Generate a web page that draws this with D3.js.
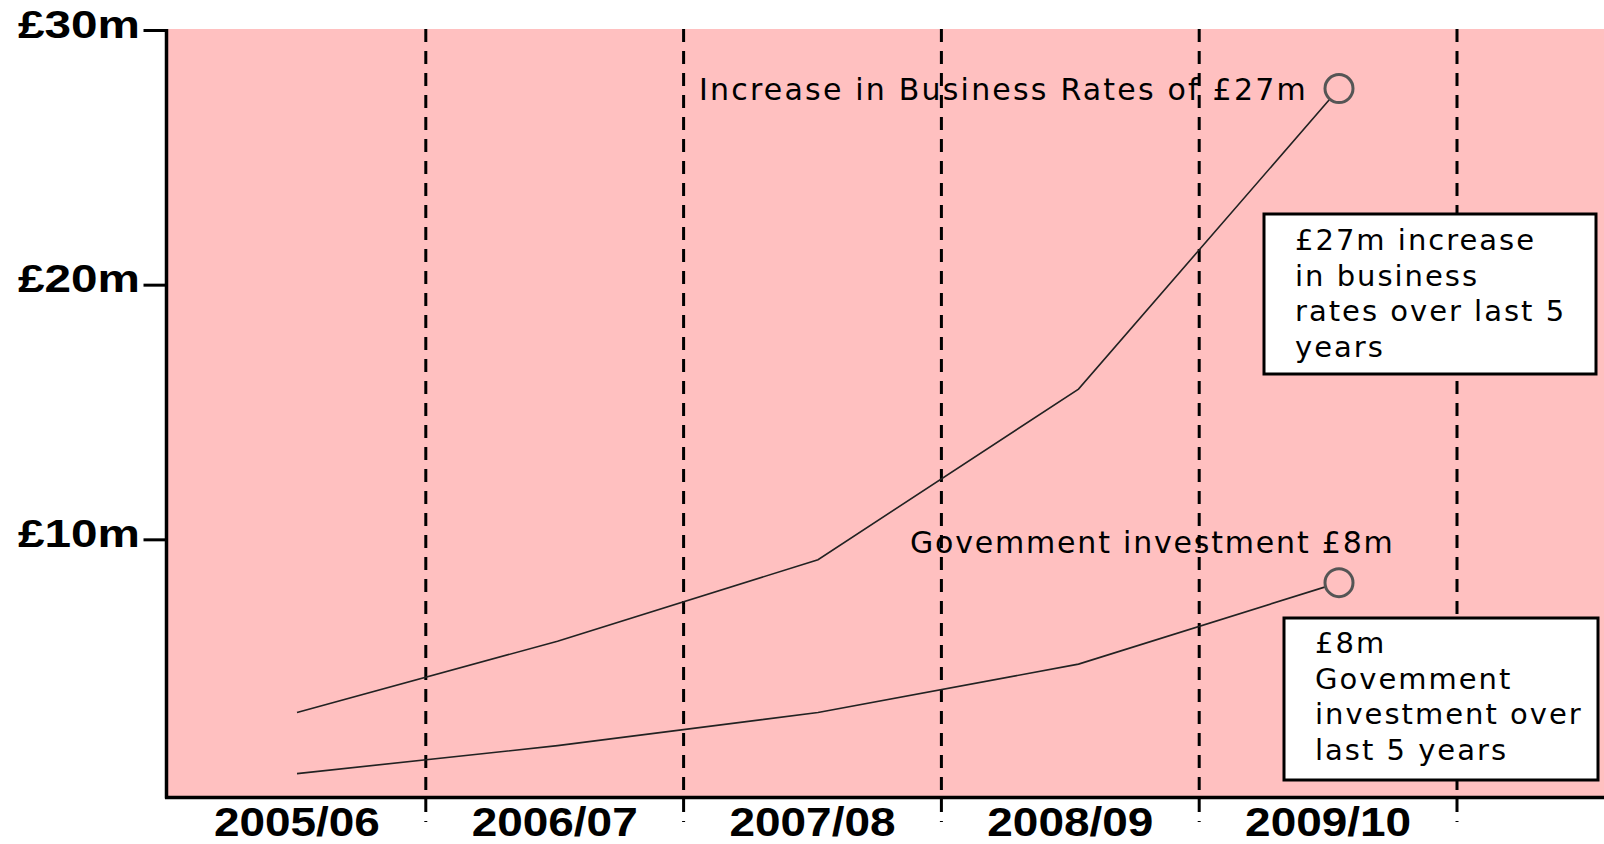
<!DOCTYPE html>
<html>
<head>
<meta charset="utf-8">
<script src="https://cdn.jsdelivr.net/npm/d3@7"></script>
<style>
body{margin:0;background:#fff}
svg{display:block}
</style>
</head>
<body>
<svg id="chart" width="1604" height="844"></svg>
<script>
// values, £m
const years = ["2005/06","2006/07","2007/08","2008/09","2009/10"]
const businessRates = [3.2, 6.0, 9.2, 15.9, 27.7]
const govInvestment = [0.8, 1.9, 3.2, 5.1, 8.3]
const yTicks = [10, 20, 30]
const ratesLabel = "Increase in Business Rates of £27m"
const govLabel = "Govemment investment £8m"
const ratesNote = ["£27m increase", "in business", "rates over last 5", "years"]
const govNote = ["£8m", "Govemment", "investment over", "last 5 years"]

const svg = d3.select("#chart")
// "top" clashes with window.top, so plot edges get their own names
const W = 1604, plotTop = 29, plotBottom = 797, plotLeft = 167

const x = d3.scaleBand().domain(years).range([168, 1457])
// the data points sit a touch right of the band centres in the original
const xp = d3.scalePoint().domain(years).range([297, 1339])
const y = d3.scaleLinear().domain([0, 30]).range([794, 30])

// plot background
svg.append("rect").attr("x", plotLeft).attr("y", plotTop)
	.attr("width", W - plotLeft).attr("height", plotBottom - plotTop)
	.attr("fill", "#ffc0c0")

// dashed year separators, they run past the axis a bit
svg.append("g").selectAll("line").data(years).enter().append("line")
	.attr("x1", d => x(d) + x.bandwidth()).attr("x2", d => x(d) + x.bandwidth())
	.attr("y1", plotTop).attr("y2", 822)
	.attr("stroke", "#000").attr("stroke-width", 3)
	.attr("stroke-dasharray", "13 9")

const line = d3.line().x((d, i) => xp(years[i])).y(d => y(d))

const series = [businessRates, govInvestment]
svg.append("g").selectAll("path").data(series).enter().append("path")
	.attr("d", line)
	.attr("fill", "none").attr("stroke", "#222").attr("stroke-width", 1.6)

// end markers, filled with the background so the line stops at the rim
svg.append("g").selectAll("circle").data(series).enter().append("circle")
	.attr("cx", xp(years[years.length - 1]))
	.attr("cy", d => y(d[d.length - 1]))
	.attr("r", 14)
	.attr("fill", "#ffc0c0").attr("stroke", "#555").attr("stroke-width", 3)

const noteFont = "'DejaVu Sans', Verdana, sans-serif"

svg.append("text").attr("x", 699).attr("y", 100).text(ratesLabel)
	.attr("font-family", noteFont).attr("font-size", 30)
	.attr("letter-spacing", 2.2)

svg.append("text").attr("x", 910).attr("y", 553).text(govLabel)
	.attr("font-family", noteFont).attr("font-size", 30)
	.attr("letter-spacing", 1.8)

function noteBox(lines, bx, by, bw, bh, tx, ty){
	let g = svg.append("g")
	g.append("rect").attr("x", bx).attr("y", by).attr("width", bw).attr("height", bh)
		.attr("fill", "#fff").attr("stroke", "#000").attr("stroke-width", 3)
	g.selectAll("text").data(lines).enter().append("text")
		.attr("x", tx).attr("y", (d, i) => ty + i * 35.7)
		.attr("font-family", noteFont).attr("font-size", 29)
		.attr("letter-spacing", 2)
		.text(d => d)
}
noteBox(ratesNote, 1264, 214, 332, 160, 1295, 250)
noteBox(govNote, 1284, 618, 314, 162, 1315, 653)

// y axis
const yAxis = svg.append("g").attr("transform", `translate(${plotLeft - 0.5},0)`)
	.call(d3.axisLeft(y).tickValues(yTicks).tickSize(23).tickPadding(3.5)
		.tickFormat(d => "£" + d + "m"))
yAxis.select(".domain").remove()
yAxis.selectAll(".tick line").attr("stroke", "#000").attr("stroke-width", 3)
yAxis.selectAll(".tick text")
	.attr("dy", null).attr("y", 7)
	.attr("font-family", "'Liberation Sans', Arial, sans-serif")
	.attr("font-weight", "bold").attr("font-size", 38).attr("fill", "#000")
	.attr("textLength", 122).attr("lengthAdjust", "spacingAndGlyphs")

svg.append("line").attr("x1", plotLeft - 0.5).attr("x2", plotLeft - 0.5)
	.attr("y1", plotTop).attr("y2", plotBottom + 1.5)
	.attr("stroke", "#000").attr("stroke-width", 3.5)

// x axis
const xAxis = svg.append("g").attr("transform", `translate(0,${plotBottom})`)
	.call(d3.axisBottom(x).tickSize(0))
xAxis.select(".domain").remove()
xAxis.selectAll(".tick text")
	.attr("dy", null).attr("y", 39)
	.attr("font-family", "'Liberation Sans', Arial, sans-serif")
	.attr("font-weight", "bold").attr("font-size", 40).attr("fill", "#000")
	.attr("textLength", 166).attr("lengthAdjust", "spacingAndGlyphs")

svg.append("line").attr("x1", plotLeft - 2).attr("x2", W)
	.attr("y1", plotBottom + 0.5).attr("y2", plotBottom + 0.5)
	.attr("stroke", "#000").attr("stroke-width", 3.5)
</script>
</body>
</html>
